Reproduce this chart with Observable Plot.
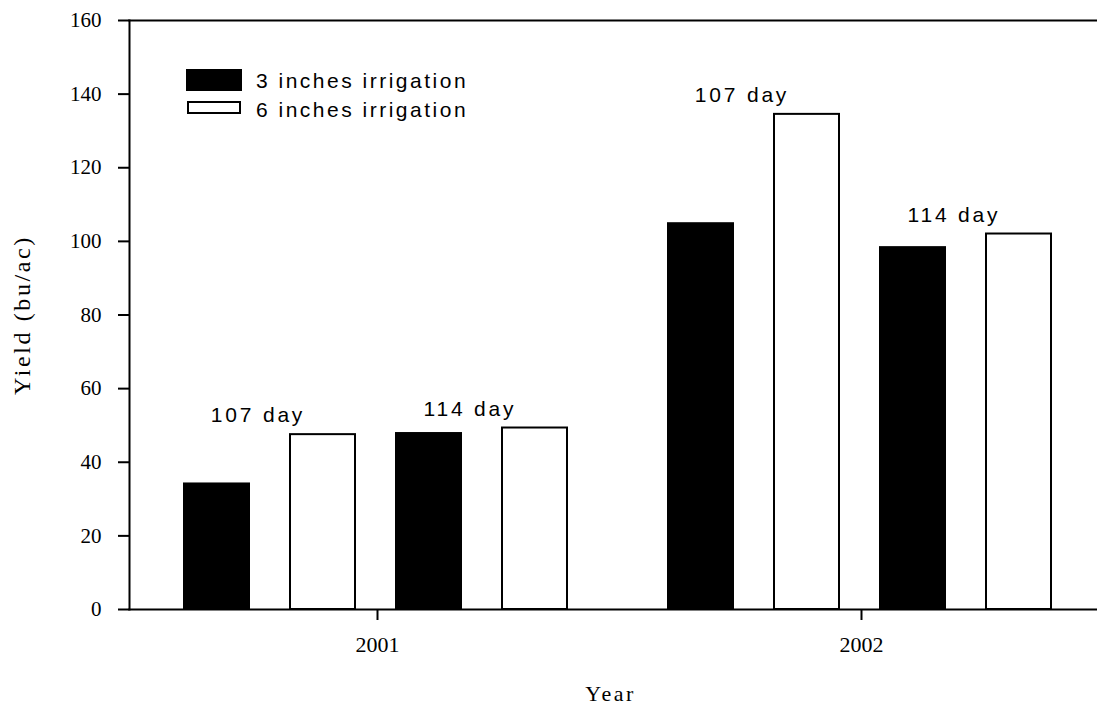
<!DOCTYPE html>
<html>
<head>
<meta charset="utf-8">
<script src="https://cdn.jsdelivr.net/npm/d3@7"></script>
<script src="https://cdn.jsdelivr.net/npm/@observablehq/plot@0.6"></script>
<style>
  html, body { margin: 0; padding: 0; background: white; }
  #wrap { position: relative; width: 1097px; height: 706px; }
  .day-label text { letter-spacing: 2.8px; }
  .ylab text { letter-spacing: 2.6px; }
  .xlab text { letter-spacing: 2.5px; }
  #legend { position: absolute; left: 0; top: 0; font-family: "Liberation Sans", Arial, sans-serif; font-size: 21px; letter-spacing: 2.5px; color: black; }
  .sw { position: absolute; box-sizing: border-box; }
  .lt { position: absolute; white-space: nowrap; line-height: 21px; }
</style>
</head>
<body>
<div id="wrap"></div>
<script>
// ---- data ----
const years = ["2001", "2002"];
const maturities = ["107 day", "114 day"];
const irrigations = ["3 inches irrigation", "6 inches irrigation"];
// order: 2001-107, 2001-114, 2002-107, 2002-114
const yield3in = [34.1, 47.8, 104.8, 98.3];
const yield6in = [47.5, 49.3, 134.5, 102.0];
const yTicks = [0, 20, 40, 60, 80, 100, 120, 140, 160];
const irrigationColors = ["black", "white"];

// ---- tables built from the arrays ----
const keys = [];
maturities.forEach(m => irrigations.forEach(ir => keys.push(m + "|" + ir)));
const rows = [];
const labels = [];
years.forEach((yr, yi) => {
  maturities.forEach((m, mi) => {
    const idx = yi * maturities.length + mi;
    const vals = [yield3in[idx], yield6in[idx]];
    irrigations.forEach((ir, ii) => {
      rows.push({year: yr, maturity: m, irrigation: ir, key: m + "|" + ir, value: vals[ii]});
    });
    labels.push({year: yr, text: m, key: m + "|" + irrigations[0], value: Math.max(...vals)});
  });
});

const chart = Plot.plot({
  width: 1097,
  height: 706,
  marginLeft: 129,
  marginRight: 0,
  marginTop: 20,
  marginBottom: 97,
  style: {background: "white", color: "black", fontFamily: "'Liberation Serif', 'Times New Roman', serif"},
  x: {domain: keys, axis: null, paddingInner: 0.387, paddingOuter: 0.4765, align: 0.545},
  fx: {domain: years, paddingInner: 0, paddingOuter: 0, label: null},
  y: {domain: [0, 160], ticks: yTicks, label: null},
  color: {domain: irrigations, range: irrigationColors},
  marks: [
    Plot.barY(rows, {fx: "year", x: "key", y: "value", fill: "irrigation", stroke: "black", strokeWidth: 2}),
    Plot.text(labels, {
      fx: "year", x: "key", y: "value", text: "text",
      dx: 41, dy: -19, lineAnchor: "middle",
      fontFamily: "'Liberation Sans', Arial, sans-serif", fontSize: 21, fill: "black",
      className: "day-label"
    }),
    Plot.frame({facet: "super", anchor: "left", stroke: "black", strokeWidth: 2}),
    Plot.frame({facet: "super", anchor: "top", stroke: "black", strokeWidth: 2}),
    Plot.frame({facet: "super", anchor: "bottom", stroke: "black", strokeWidth: 2}),
    Plot.axisY({ticks: yTicks, tickSize: 11, tickPadding: 17, fontSize: 21, strokeWidth: 2, label: null}),
    Plot.axisFx({anchor: "bottom", tickSize: 11, tickPadding: 16, fontSize: 22, strokeWidth: 2, dx: 6, label: null}),
    Plot.text(["Yield (bu/ac)"], {facet: "super", frameAnchor: "left", textAnchor: "middle", rotate: -90, dx: -107, lineAnchor: "middle", fontSize: 24, fill: "black", className: "ylab"}),
    Plot.text(["Year"], {facet: "super", frameAnchor: "bottom", textAnchor: "middle", dx: -3, dy: 84, lineAnchor: "middle", fontSize: 22, fill: "black", className: "xlab"})
  ]
});

const wrap = document.getElementById("wrap");
wrap.appendChild(chart);

// legend (HTML overlay)
const legend = document.createElement("div");
legend.id = "legend";
const items = [
  {label: irrigations[0], color: irrigationColors[0], sw: {left: 186, top: 69, width: 56, height: 22}, textTop: 70},
  {label: irrigations[1], color: irrigationColors[1], sw: {left: 187, top: 101, width: 54, height: 13}, textTop: 99}
];
items.forEach(it => {
  const s = document.createElement("div");
  s.className = "sw";
  Object.assign(s.style, {left: it.sw.left + "px", top: it.sw.top + "px", width: it.sw.width + "px", height: it.sw.height + "px", background: it.color, border: "2px solid black"});
  legend.appendChild(s);
  const t = document.createElement("div");
  t.className = "lt";
  t.textContent = it.label;
  Object.assign(t.style, {left: "256px", top: it.textTop + "px"});
  legend.appendChild(t);
});
wrap.appendChild(legend);
</script>
</body>
</html>
